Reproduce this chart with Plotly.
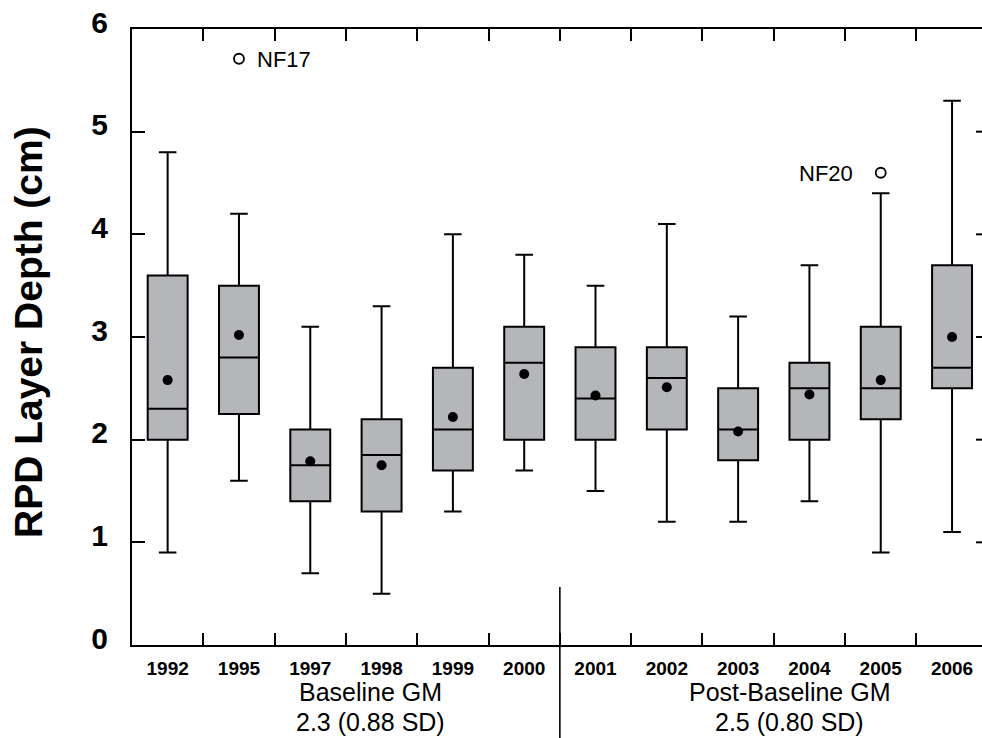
import plotly.graph_objects as go

# Sampling years and RPD layer depth summary statistics (cm)
years = ["1992", "1995", "1997", "1998", "1999", "2000",
         "2001", "2002", "2003", "2004", "2005", "2006"]
whisker_low = [0.9, 1.6, 0.7, 0.5, 1.3, 1.7, 1.5, 1.2, 1.2, 1.4, 0.9, 1.1]
q1 = [2.0, 2.25, 1.4, 1.3, 1.7, 2.0, 2.0, 2.1, 1.8, 2.0, 2.2, 2.5]
median = [2.3, 2.8, 1.75, 1.85, 2.1, 2.75, 2.4, 2.6, 2.1, 2.5, 2.5, 2.7]
q3 = [3.6, 3.5, 2.1, 2.2, 2.7, 3.1, 2.9, 2.9, 2.5, 2.75, 3.1, 3.7]
whisker_high = [4.8, 4.2, 3.1, 3.3, 4.0, 3.8, 3.5, 4.1, 3.2, 3.7, 4.4, 5.3]
mean = [2.58, 3.02, 1.79, 1.75, 2.22, 2.64, 2.43, 2.51, 2.08, 2.44, 2.58, 3.0]

# Outlying stations
outlier_years = ["1995", "2005"]
outlier_values = [5.71, 4.6]
outlier_names = ["NF17", "NF20"]

# Grand means per period
group_titles = ["Baseline GM", "Post-Baseline GM"]
group_stats = ["2.3 (0.88 SD)", "2.5 (0.80 SD)"]

y_ticks = [0, 1, 2, 3, 4, 5, 6]

FONT = "Liberation Sans, Arial, Helvetica, sans-serif"
X_RANGE = [-0.5, 11.42]

fig = go.Figure()

fig.add_trace(go.Box(
    x=years, q1=q1, median=median, q3=q3,
    lowerfence=whisker_low, upperfence=whisker_high,
    fillcolor="#b4b6b9",
    line=dict(color="black", width=2),
    whiskerwidth=0.44,
    boxpoints=False,
    hoverinfo="skip",
    showlegend=False,
))

fig.add_trace(go.Scatter(
    x=years, y=mean, mode="markers",
    marker=dict(color="black", size=10),
    showlegend=False, hoverinfo="skip",
))

fig.add_trace(go.Scatter(
    x=outlier_years, y=outlier_values, mode="markers",
    marker=dict(color="black", size=10, symbol="circle-open",
                line=dict(color="black", width=1.8)),
    showlegend=False, hoverinfo="skip",
))

annotations = []
# Outlier labels (positioned by category index on the category axis)
label_side = [("left", 16), ("right", -26)]
for yr, val, name, (anchor, shift) in zip(outlier_years, outlier_values,
                                          outlier_names, label_side):
    annotations.append(dict(x=years.index(yr), y=val, xref="x", yref="y",
                            text=name, showarrow=False, xanchor=anchor,
                            xshift=shift, yshift=-1,
                            font=dict(family=FONT, size=22, color="black")))

# Period labels under the axis
for cx, title, stat in zip([0.28, 0.774], group_titles, group_stats):
    annotations.append(dict(x=cx, y=-0.0771, xref="paper", yref="paper", text=title,
                            showarrow=False, xanchor="center", yanchor="middle",
                            borderpad=0,
                            font=dict(family=FONT, size=25, color="black")))
    annotations.append(dict(x=cx, y=-0.1242, xref="paper", yref="paper", text=stat,
                            showarrow=False, xanchor="center", yanchor="middle",
                            borderpad=0,
                            font=dict(family=FONT, size=25, color="black")))

# Y axis title
annotations.append(dict(x=-0.1224, y=0.508, xref="paper", yref="paper",
                        text="RPD Layer Depth (cm)", textangle=-90, showarrow=False,
                        xanchor="center", yanchor="middle",
                        font=dict(family=FONT, size=39, color="black", weight="bold")))

# Divider between baseline and post-baseline periods
split = 5.5
split_dom = (split - X_RANGE[0]) / (X_RANGE[1] - X_RANGE[0])
shapes = [dict(type="line", xref="x domain", yref="y domain",
               x0=split_dom, x1=split_dom, y0=0.565 / 6, y1=-0.2,
               line=dict(color="black", width=1.6))]

# Inward ticks of the right-hand axis at the clipped edge
for v in y_ticks[1:-1]:
    shapes.append(dict(type="line", xref="x domain", yref="y",
                       x0=0.993, x1=1.0, y0=v, y1=v,
                       line=dict(color="black", width=2)))

fig.update_layout(
    width=982, height=738,
    margin=dict(l=132, r=0, t=29, b=93),
    paper_bgcolor="white", plot_bgcolor="white",
    boxgap=0.2,
    annotations=annotations,
    shapes=shapes,
    font=dict(family=FONT, color="black"),
)

fig.update_xaxes(
    type="category", range=X_RANGE,
    tickson="boundaries", ticks="inside", ticklen=12, tickwidth=2, tickcolor="black",
    showline=True, linewidth=2, linecolor="black", mirror="ticks",
    showgrid=False, zeroline=False,
    tickfont=dict(family=FONT, size=19, color="black", weight="bold"),
    ticklabelstandoff=5,
)

fig.update_yaxes(
    range=[0, 6], tickvals=y_ticks,
    ticks="inside", ticklen=13, tickwidth=2, tickcolor="black",
    showline=True, linewidth=2, linecolor="black",
    showgrid=False, zeroline=False,
    tickfont=dict(family=FONT, size=30, color="black", weight="bold"),
    ticklabelstandoff=16, ticklabelshift=-7,
)

fig.write_html("out.html")
